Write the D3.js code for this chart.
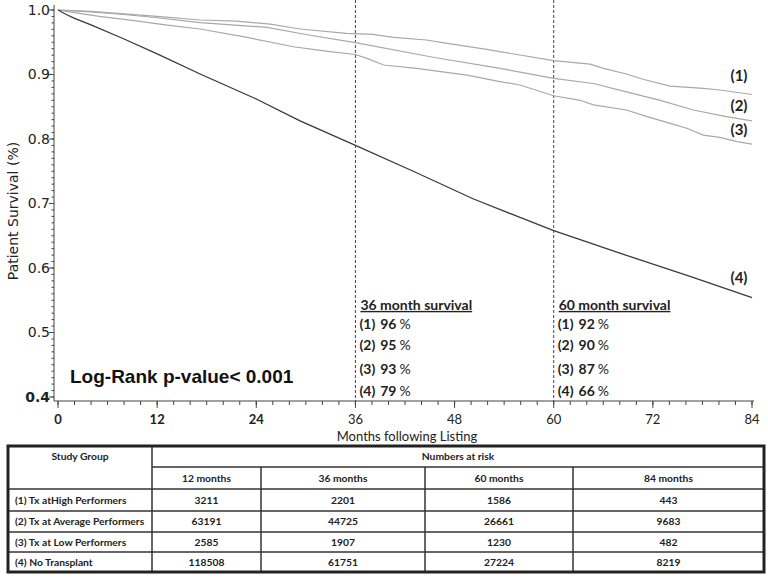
<!DOCTYPE html>
<html><head><meta charset="utf-8">
<script src="https://cdn.jsdelivr.net/npm/d3@7"></script>
<style>body{margin:0;background:#fff}svg{display:block}text{white-space:pre}</style>
</head><body><svg id="c" width="768" height="578"></svg>
<script>
// ---- data ----
const seriesNames = ["(1)", "(2)", "(3)", "(4)"];
const curveHigh = [[0,1.0],[4,0.998],[8,0.994],[12,0.990],[17.2,0.9845],[21.6,0.9829],[25.7,0.978],[29.3,0.9705],[34.9,0.9638],[38.1,0.9622],[40.6,0.9576],[44.6,0.9535],[47.1,0.9483],[51.9,0.939],[55.9,0.9302],[60,0.9214],[64.4,0.916],[66,0.9096],[68.8,0.9008],[70.8,0.8926],[74.1,0.882],[78.1,0.8786],[80.1,0.876],[84,0.869]];
const curveAverage = [[0,1.0],[4,0.997],[8,0.993],[12,0.988],[17.2,0.9803],[25.3,0.9731],[30,0.962],[36,0.9493],[45.4,0.9267],[53.5,0.9096],[60,0.894],[64.8,0.886],[68.8,0.873],[72.9,0.860],[76.9,0.845],[80.9,0.8346],[84,0.828]];
const curveLow = [[0,1.0],[2,0.996],[5,0.990],[9,0.984],[13,0.977],[17.2,0.9705],[22.4,0.9587],[28.5,0.943],[32.9,0.9354],[36,0.931],[37.4,0.925],[39.4,0.9147],[43.4,0.9096],[49.5,0.899],[53.5,0.889],[55.9,0.8837],[60,0.867],[63.2,0.860],[64.8,0.853],[68.8,0.845],[71.3,0.8346],[74.1,0.8243],[76.1,0.8166],[78.1,0.806],[80.1,0.8026],[82.2,0.796],[84,0.792]];
const curveNoTx = [[0,1.0],[1,0.993],[2,0.987],[4,0.977],[8,0.955],[12,0.932],[17.2,0.9008],[24,0.862],[29.3,0.828],[36,0.790],[43,0.750],[50.3,0.707],[55,0.683],[60,0.658],[68,0.623],[76.5,0.587],[84,0.554]];
const xTicks = [0, 12, 24, 36, 48, 60, 72, 84];
const yTicks = [0.4, 0.5, 0.6, 0.7, 0.8, 0.9, 1.0];
const refMonths = [36, 60];
const survival36 = ["96", "95", "93", "79"];
const survival60 = ["92", "90", "87", "66"];
const pValueText = "Log-Rank p-value< 0.001";
const riskGroups = ["(1) Tx atHigh Performers", "(2) Tx at Average Performers", "(3) Tx at Low Performers", "(4) No Transplant"];
const riskMonths = ["12 months", "36 months", "60 months", "84 months"];
const riskCounts = [[3211, 2201, 1586, 443], [63191, 44725, 26661, 9683], [2585, 1907, 1230, 482], [118508, 61751, 27224, 8219]];

// ---- layout ----
const svg = d3.select("#c");
const x = d3.scaleLinear().domain([0, 84]).range([58, 752]);
const y = d3.scaleLinear().domain([0.4, 1.0]).range([397, 10]);
const axisY0 = 401, axisX0 = 54;
const axisColor = "#444";
const calibri = "Lato, 'Open Sans', sans-serif";

// dashed reference lines
svg.selectAll(".ref").data(refMonths).enter().append("line")
  .attr("x1", d => x(d)).attr("x2", d => x(d)).attr("y1", 0).attr("y2", axisY0)
  .attr("stroke", "#444").attr("stroke-width", 1).attr("stroke-dasharray", "3,2");

// curves
const line = d3.line().x(d => x(d[0])).y(d => y(d[1]));
const curves = [curveHigh, curveAverage, curveLow, curveNoTx];
const curveColors = ["#a8a8a8", "#a8a8a8", "#a8a8a8", "#3a3a3a"];
svg.selectAll(".curve").data(curves).enter().append("path")
  .attr("d", line).attr("fill", "none")
  .attr("stroke", (d, i) => curveColors[i]).attr("stroke-width", (d, i) => i === 3 ? 1.3 : 1.2);

// y axis
const yAxisG = svg.append("g").attr("transform", `translate(${axisX0},0)`);
yAxisG.append("line").attr("x1", 0).attr("x2", 0).attr("y1", 5).attr("y2", axisY0).attr("stroke", axisColor);
const yMinor = d3.range(40, 101).map(v => v / 100);
yAxisG.selectAll(".ym").data(yMinor).enter().append("line")
  .attr("x1", -2.5).attr("x2", 0).attr("y1", d => y(d)).attr("y2", d => y(d)).attr("stroke", axisColor);
yAxisG.selectAll(".yM").data(yTicks).enter().append("line")
  .attr("x1", -5).attr("x2", 0).attr("y1", d => y(d)).attr("y2", d => y(d)).attr("stroke", axisColor);
yAxisG.selectAll(".yl").data(yTicks).enter().append("text")
  .attr("x", -4).attr("y", d => y(d)).attr("dy", "0.35em").attr("text-anchor", "end")
  .attr("font-family", "'DejaVu Sans', Verdana, sans-serif").attr("font-size", 14)
  .attr("font-weight", d => d === 0.4 ? "bold" : "normal").attr("fill", "#222")
  .text(d3.format(".1f"));
svg.append("text").attr("transform", "translate(13,211) rotate(-90)")
  .attr("text-anchor", "middle").attr("dy", "0.35em")
  .attr("font-family", "'DejaVu Sans', Verdana, sans-serif").attr("font-size", 14).attr("fill", "#222")
  .text("Patient Survival (%)");

// x axis
const xAxisG = svg.append("g").attr("transform", `translate(0,${axisY0})`);
xAxisG.append("line").attr("x1", axisX0).attr("x2", 754).attr("y1", 0).attr("y2", 0).attr("stroke", axisColor);
const xMinor = d3.range(0, 85, 2);
xAxisG.selectAll(".xm").data(xMinor).enter().append("line")
  .attr("x1", d => x(d)).attr("x2", d => x(d)).attr("y1", 0).attr("y2", 4).attr("stroke", axisColor);
xAxisG.selectAll(".xM").data(xTicks).enter().append("line")
  .attr("x1", d => x(d)).attr("x2", d => x(d)).attr("y1", 0).attr("y2", 7).attr("stroke", axisColor);
xAxisG.selectAll(".xl").data(xTicks).enter().append("text")
  .attr("x", d => x(d)).attr("y", 23).attr("text-anchor", "middle")
  .attr("font-family", calibri).attr("font-size", 13)
  .attr("font-weight", d => d <= 24 ? "bold" : "normal").attr("fill", "#222")
  .text(d => d);
svg.append("text").attr("x", 407).attr("y", 441).attr("text-anchor", "middle")
  .attr("font-family", calibri).attr("font-size", 13).attr("fill", "#222")
  .text("Months following Listing");

// curve end labels
const endLabelY = [76, 106, 130, 278];
svg.selectAll(".endl").data(seriesNames).enter().append("text")
  .attr("x", 739).attr("y", (d, i) => endLabelY[i]).attr("dy", "0.35em").attr("text-anchor", "middle")
  .attr("font-family", calibri).attr("font-size", 15).attr("font-weight", "bold").attr("fill", "#222")
  .text(d => d);

// survival annotations
const rowY = [324, 345, 369, 391];
function survBlock(xPos, title, vals) {
  const g = svg.append("g");
  g.append("text").attr("x", xPos).attr("y", 305).attr("dy", "0.35em")
    .attr("font-family", calibri).attr("font-size", 14).attr("font-weight", "bold")
    .attr("text-decoration", "underline").attr("fill", "#222").text(title);
  vals.forEach((v, i) => {
    const t = g.append("text").attr("x", xPos - 1).attr("y", rowY[i]).attr("dy", "0.35em")
      .attr("font-family", calibri).attr("font-size", 14).attr("fill", "#222");
    t.append("tspan").attr("font-weight", "bold").text(seriesNames[i]);
    t.append("tspan").attr("font-weight", "bold").attr("dx", 5).text(v);
    t.append("tspan").attr("dx", 3).text("%");
  });
}
survBlock(x(36) + 5, "36 month survival", survival36);
survBlock(x(60) + 5, "60 month survival", survival60);

svg.append("text").attr("x", 70).attr("y", 376).attr("dy", "0.35em")
  .attr("font-family", "'Liberation Sans', Arial, sans-serif").attr("font-size", 19)
  .attr("font-weight", "bold").attr("fill", "#111").text(pValueText);

// ---- table ----
const tb = svg.append("g");
const colEdges = [8, 152, 261, 425, 573, 764];
const rowEdges = [446, 467, 489, 511, 532, 552, 572];
const tColor = "#333";
const tFont = calibri;
tb.append("line").attr("x1", colEdges[1]).attr("x2", colEdges[5]).attr("y1", rowEdges[1]).attr("y2", rowEdges[1]).attr("stroke", tColor).attr("stroke-width", 1.5);
rowEdges.slice(2, 6).forEach(r => tb.append("line").attr("x1", colEdges[0]).attr("x2", colEdges[5]).attr("y1", r).attr("y2", r).attr("stroke", tColor).attr("stroke-width", 1.5));
tb.append("line").attr("x1", colEdges[1]).attr("x2", colEdges[1]).attr("y1", rowEdges[0]).attr("y2", rowEdges[6]).attr("stroke", tColor).attr("stroke-width", 1.5);
colEdges.slice(2, 5).forEach(c => tb.append("line").attr("x1", c).attr("x2", c).attr("y1", rowEdges[1]).attr("y2", rowEdges[6]).attr("stroke", tColor).attr("stroke-width", 1.5));
tb.append("rect").attr("x", colEdges[0]).attr("y", rowEdges[0]).attr("width", colEdges[5] - colEdges[0]).attr("height", rowEdges[6] - rowEdges[0])
  .attr("fill", "none").attr("stroke", "#222").attr("stroke-width", 3);

function cellText(xPos, yPos, txt, anchor) {
  tb.append("text").attr("x", xPos).attr("y", yPos).attr("dy", "0.35em").attr("text-anchor", anchor)
    .attr("font-family", tFont).attr("font-size", 10.3).attr("font-weight", "bold").attr("fill", "#222").text(txt);
}
cellText((colEdges[0] + colEdges[1]) / 2, (rowEdges[0] + rowEdges[1]) / 2, "Study Group", "middle");
cellText((colEdges[1] + colEdges[5]) / 2, (rowEdges[0] + rowEdges[1]) / 2, "Numbers at risk", "middle");
riskMonths.forEach((m, j) => cellText((colEdges[j + 1] + colEdges[j + 2]) / 2, (rowEdges[1] + rowEdges[2]) / 2, m, "middle"));
riskGroups.forEach((g, i) => {
  const cy = (rowEdges[i + 2] + rowEdges[i + 3]) / 2;
  cellText(15, cy, g, "start");
  riskCounts[i].forEach((v, j) => cellText((colEdges[j + 1] + colEdges[j + 2]) / 2, cy, v, "middle"));
});
</script></body></html>
